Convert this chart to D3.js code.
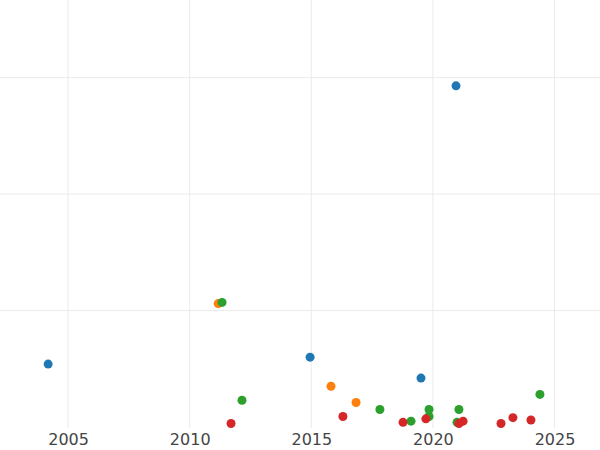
<!DOCTYPE html>
<html><head><meta charset="utf-8">
<script src="https://cdn.jsdelivr.net/npm/d3@7"></script>
<style>body{margin:0;background:#fff}</style></head>
<body><svg id="c" width="600" height="450"></svg>
<script>
const xTicks=[2005,2010,2015,2020,2025];
const yTicks=[1,2,3];
const seriesNames=["blue","orange","green","red"];
const colors=["#1f77b4","#ff7f0e","#2ca02c","#d62728"];
const blueX=[2004.18,2014.95,2019.51,2020.95], blueY=[0.54,0.60,0.42,2.93];
const orangeX=[2011.17,2015.81,2016.84], orangeY=[1.06,0.35,0.21];
const greenX=[2011.33,2012.15,2017.82,2019.10,2019.84,2019.84,2021.07,2020.99,2024.40];
const greenY=[1.07,0.23,0.15,0.05,0.15,0.09,0.15,0.04,0.28];
const redX=[2011.70,2016.30,2018.77,2019.71,2021.07,2021.24,2022.80,2023.29,2024.03];
const redY=[0.03,0.09,0.04,0.07,0.03,0.05,0.03,0.08,0.06];
const series=[[blueX,blueY],[orangeX,orangeY],[greenX,greenY],[redX,redY]];
const svg=d3.select("#c");
const x=d3.scaleLinear().domain([2002.2,2026.87]).range([0,600]);
const y=d3.scaleLinear().domain([0,3.667]).range([427,0]);
const g=svg.append("g");
g.selectAll(".vx").data(xTicks).join("line").attr("x1",d=>x(d)).attr("x2",d=>x(d)).attr("y1",0).attr("y2",428).attr("stroke","#ebebeb");
g.selectAll(".hy").data(yTicks).join("line").attr("x1",0).attr("x2",600).attr("y1",d=>y(d)).attr("y2",d=>y(d)).attr("stroke","#ebebeb");
const ax=svg.append("g").attr("transform","translate(0,428)").call(d3.axisBottom(x).tickValues(xTicks).tickFormat(d3.format("d")).tickSize(0).tickPadding(6));
ax.select(".domain").remove();
ax.selectAll("text").attr("font-family","DejaVu Sans").attr("font-size",16).attr("fill","#444");
series.forEach(([xs,ys],i)=>{
  svg.append("g").selectAll("circle").data(xs.map((v,j)=>[v,ys[j]])).join("circle")
   .attr("cx",d=>x(d[0])).attr("cy",d=>y(d[1])).attr("r",4.5).attr("fill",colors[i]);
});
</script></body></html>
